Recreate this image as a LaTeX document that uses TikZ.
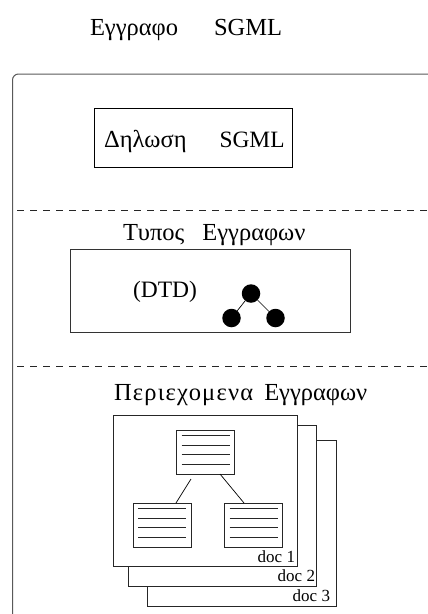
\documentclass[tikz,border=0pt]{standalone}
\usepackage{fontspec}
\setmainfont{Liberation Serif}
\usetikzlibrary{calc}
\tikzset{
  every node/.style={inner sep=0pt,outer sep=0pt},
  big/.style={font=\fontsize{24.5}{26}\selectfont,anchor=base west},
  doclabel/.style={font=\fontsize{17}{19}\selectfont,anchor=base east},
  thin box/.style={draw=black,line width=0.8pt},
  docbox/.style={draw=black!85,line width=0.8pt,fill=white},
  rule/.style={line width=0.7pt,draw=black!85},
  sep/.style={line width=0.6pt,draw=black!85,dash pattern=on 6.5pt off 6.5pt},
  ball/.style={circle,fill=black,minimum size=18.5pt},
}
\newcommand{\pagebox}[3]{%
  \node[docbox,anchor=north west,minimum width=58pt,minimum height=44pt] (#1) at (#2,#3) {};
  \foreach \yy in {5,15,24,34} {\draw[rule] ($(#1.north west)+(5,\yy)$) -- ($(#1.north east)+(-5,\yy)$);}
}
\begin{document}
\begin{tikzpicture}[x=1pt,y=-1pt]
\useasboundingbox (0,0) rectangle (428,614);
\node[big] (title) at (90,35) {Εγγραφο\hspace{36pt}SGML};
\coordinate (frameBL) at (12.5,614);
\coordinate (frameTR) at (428,74);
\draw[line width=1pt,draw=black!65,rounded corners=6pt] (frameBL) |- (frameTR);
\node[thin box,anchor=north west,minimum width=198pt,minimum height=59pt] (decl) at (94,108) {};
\node[big] (declt) at (104,147) {Δηλωση\hspace{33pt}{\fontsize{23.4}{26}\selectfont SGML}};
\coordinate (d1a) at (17,210); \coordinate (d1b) at (428,210);
\draw[sep] (d1a) -- (d1b);
\node[big] (typet) at (123,240) {Τυπος\hspace{18pt}Εγγραφων};
\node[thin box,draw=black!80,anchor=north west,minimum width=280pt,minimum height=83pt] (dtd) at (70,249) {};
\node[big,font=\fontsize{23.5}{26}\selectfont] (dtdt) at (133,297) {(DTD)};
\node[ball] (b0) at (251,293.5) {};
\node[ball] (b1) at (231.5,318) {};
\node[ball] (b2) at (275.5,318) {};
\draw[line width=0.7pt] (b0) -- (b1);
\draw[line width=0.7pt] (b0) -- (b2);
\coordinate (d2a) at (17,366); \coordinate (d2b) at (428,366);
\draw[sep] (d2a) -- (d2b);
\node[big] (cont) at (114,400) {{\addfontfeature{LetterSpace=5}Περιεχομενα}\hspace{11pt}Εγγραφων};
\node[docbox,anchor=north west,minimum width=189pt,minimum height=166pt] (doc3) at (147,440) {};
\node[docbox,anchor=north west,minimum width=188pt,minimum height=161pt] (doc2) at (128,425) {};
\node[docbox,anchor=north west,minimum width=184pt,minimum height=151pt] (doc1) at (113.5,415.5) {};
\node[doclabel] (l1) at (295,562) {doc 1};
\node[doclabel] (l2) at (315,581) {doc 2};
\node[doclabel] (l3) at (330,601) {doc 3};
\pagebox{ptop}{176.5}{430}
\pagebox{pleft}{133}{503}
\pagebox{pright}{224.5}{503}
\coordinate (c1) at (191,479);
\coordinate (c2) at (176,503);
\coordinate (c3) at (220,474);
\coordinate (c4) at (244,503);
\draw[line width=0.7pt] (c1) -- (c2);
\draw[line width=0.7pt] (c3) -- (c4);
\end{tikzpicture}
\end{document}
